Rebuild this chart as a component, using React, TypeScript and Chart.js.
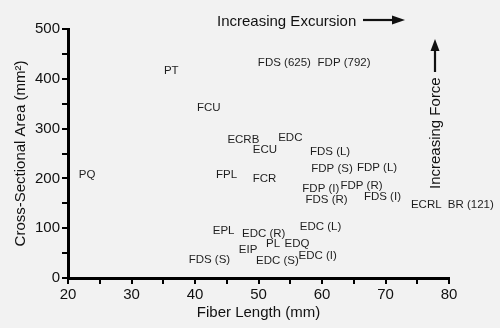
import React, { useEffect, useRef } from "react";
import { Chart, registerables } from "chart.js";

Chart.register(...registerables);

// Muscle names and their (fiber length, cross-sectional area) positions
const muscles = [
  "PQ", "PT", "FCU", "ECRB", "ECU", "EDC", "FDS (625)", "FDP (792)",
  "FDS (L)", "FDP (S)", "FDP (L)", "FPL", "FCR", "FDP (I)", "FDP (R)",
  "FDS (R)", "FDS (I)", "ECRL", "BR (121)", "EDC (L)", "EPL", "EDC (R)",
  "PL", "EDQ", "EIP", "FDS (S)", "EDC (S)", "EDC (I)",
];
const fiberLength = [
  21.7, 35.1, 40.3, 45.1, 49.1, 53.1, 49.9, 59.3,
  58.1, 58.3, 65.5, 43.3, 49.1, 56.9, 62.9,
  57.4, 66.6, 74.0, 79.8, 56.5, 42.8, 47.4,
  51.2, 54.1, 46.9, 39.0, 49.6, 56.3,
];
const crossArea = [
  207, 416, 342, 278, 258, 282, 433, 433,
  254, 219, 222, 207, 199, 180, 186,
  157, 163, 146, 146, 103, 94, 88,
  68, 69, 56, 37, 34, 44,
];

const xTitle = "Fiber Length (mm)";
const yTitle = "Cross-Sectional Area (mm²)";
const excursionText = "Increasing Excursion";
const forceText = "Increasing Force";

const FONT = "'Liberation Sans', Arial, Helvetica, sans-serif";

const bgPlugin = {
  id: "bg",
  beforeDraw(chart: any) {
    const ctx = chart.ctx;
    ctx.save();
    ctx.fillStyle = "#f2f2f2";
    ctx.fillRect(0, 0, chart.width, chart.height);
    ctx.restore();
  },
};

const labelPlugin = {
  id: "muscleLabels",
  afterDatasetsDraw(chart: any) {
    const ctx = chart.ctx;
    const xs = chart.scales.x;
    const ys = chart.scales.y;
    ctx.save();
    ctx.fillStyle = "#1e1e1e";
    ctx.font = `11.5px ${FONT}`;
    ctx.textAlign = "left";
    ctx.textBaseline = "middle";
    muscles.forEach((name, i) => {
      const px = xs.getPixelForValue(fiberLength[i]);
      const py = ys.getPixelForValue(crossArea[i]);
      ctx.fillText(name, px, py);
    });
    ctx.restore();
  },
};

const annotationPlugin = {
  id: "arrows",
  afterDraw(chart: any) {
    const ctx = chart.ctx;
    ctx.save();
    ctx.fillStyle = "#111";
    ctx.strokeStyle = "#111";
    ctx.font = `15px ${FONT}`;
    ctx.textBaseline = "alphabetic";
    ctx.textAlign = "left";
    // horizontal label + arrow
    ctx.fillText(excursionText, 217, 25.5);
    ctx.lineWidth = 2.2;
    ctx.beginPath();
    ctx.moveTo(363, 20);
    ctx.lineTo(394, 20);
    ctx.stroke();
    ctx.beginPath();
    ctx.moveTo(405, 20);
    ctx.lineTo(392, 15.5);
    ctx.lineTo(392, 24.5);
    ctx.closePath();
    ctx.fill();
    // vertical arrow
    ctx.beginPath();
    ctx.moveTo(435, 72);
    ctx.lineTo(435, 46);
    ctx.stroke();
    ctx.beginPath();
    ctx.moveTo(435, 39);
    ctx.lineTo(430.5, 51);
    ctx.lineTo(439.5, 51);
    ctx.closePath();
    ctx.fill();
    // vertical label
    ctx.translate(439.5, 189);
    ctx.rotate(-Math.PI / 2);
    ctx.fillText(forceText, 0, 0);
    ctx.restore();
  },
};

export default function App() {
  const ref = useRef<HTMLCanvasElement>(null);
  useEffect(() => {
    if (!ref.current) return;
    const tickFont = { family: FONT, size: 15 };
    const chart = new Chart(ref.current, {
      type: "scatter",
      data: {
        datasets: [
          {
            data: fiberLength.map((x, i) => ({ x, y: crossArea[i] })),
            pointRadius: 0,
            pointHoverRadius: 0,
          },
        ],
      },
      options: {
        responsive: false,
        animation: false,
        events: [],
        layout: { padding: { left: 0, top: 29, right: 51, bottom: 0 } },
        plugins: { legend: { display: false }, tooltip: { enabled: false } },
        scales: {
          x: {
            type: "linear",
            min: 20,
            max: 80,
            afterFit(scale: any) {
              scale.height = 50;
            },
            border: { color: "#000", width: 3 },
            grid: {
              drawOnChartArea: false,
              color: "#000",
              lineWidth: 2,
              tickLength: 6,
            },
            ticks: {
              stepSize: 5,
              autoSkip: false,
              maxRotation: 0,
              padding: 2,
              color: "#111",
              font: tickFont,
              callback: (v: any) => (Number(v) % 10 === 0 ? String(v) : ""),
            },
            title: {
              display: true,
              text: xTitle,
              color: "#111",
              font: { family: FONT, size: 15 },
              padding: { top: 0, bottom: 6 },
            },
          },
          y: {
            type: "linear",
            min: 0,
            max: 500,
            afterFit(scale: any) {
              scale.width = 68;
            },
            border: { color: "#000", width: 3 },
            grid: {
              drawOnChartArea: false,
              color: "#000",
              lineWidth: 2,
              tickLength: 6,
            },
            ticks: {
              stepSize: 50,
              autoSkip: false,
              padding: 2,
              color: "#111",
              font: tickFont,
              callback: (v: any) => (Number(v) % 100 === 0 ? String(v) : ""),
            },
            title: {
              display: true,
              text: yTitle,
              color: "#111",
              font: { family: FONT, size: 15 },
              padding: { top: 12, bottom: 0 },
            },
          },
        },
      },
      plugins: [bgPlugin, labelPlugin, annotationPlugin],
    });
    return () => chart.destroy();
  }, []);
  return (
    <div style={{ position: "fixed", left: 0, top: 0, width: 500, height: 328 }}>
      <canvas ref={ref} width={500} height={328} style={{ display: "block" }} />
    </div>
  );
}
